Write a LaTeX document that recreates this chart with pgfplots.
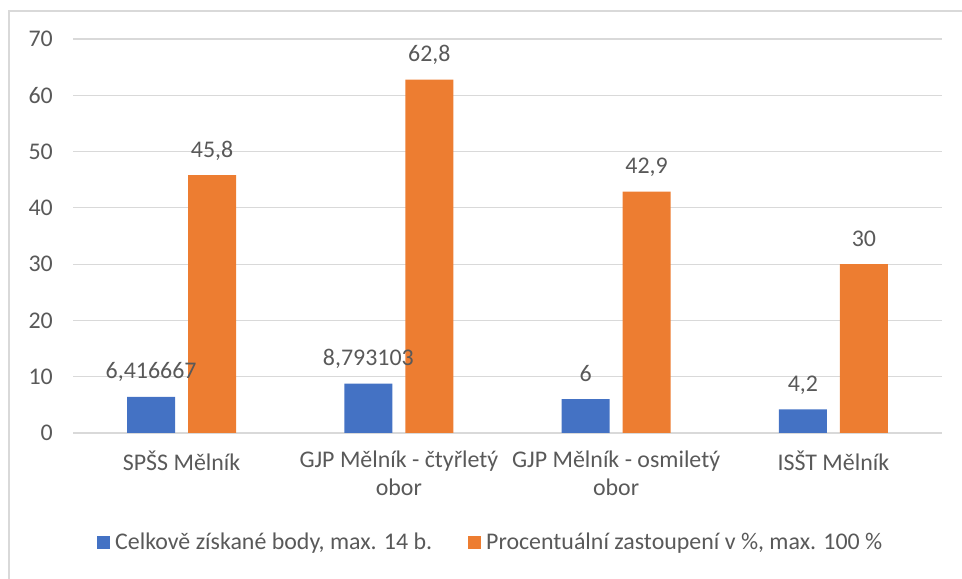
\documentclass[border=0pt]{standalone}
\usepackage{pgfplots}
\pgfplotsset{compat=1.18}
\usepackage{fontspec}
\setmainfont{Carlito}
\definecolor{cblue}{HTML}{4472C4}
\definecolor{corange}{HTML}{ED7D31}
\definecolor{ctext}{HTML}{595959}
\definecolor{cgrid}{HTML}{D9D9D9}
\begin{document}
\begin{tikzpicture}[x=1bp,y=1bp]
\useasboundingbox (0,0) rectangle (962,579);
\draw[cgrid, line width=1.4bp] (9,-5) -- (9,568) -- (970,568);
\begin{axis}[
  at={(73bp,146bp)}, anchor=south west,
  scale only axis, width=869bp, height=394bp,
  xmin=-0.5, xmax=3.5, ymin=0, ymax=70, enlargelimits=false,
  ybar=13bp, bar width=48bp,
  xtick={0,1,2,3},
  xticklabels={SPŠS Mělník, {GJP Mělník - čtyřletý\\obor}, {GJP Mělník - osmiletý\\obor}, ISŠT Mělník},
  ytick={0,10,...,70},
  ymajorgrids, grid style={cgrid, line width=1.2bp},
  axis line style={draw=none},
  major tick length=0pt,
  /pgf/number format/assume math mode=true,
  tick label style={font=\fontsize{24}{28}\selectfont, text=ctext},
  yticklabel style={anchor=east, inner sep=0pt, xshift=-20bp},
  xticklabel style={anchor=north, align=center, inner sep=0pt, yshift=-18bp},
  nodes near coords,
  point meta=explicit symbolic,
  every node near coord/.append style={anchor=base, yshift=18bp, inner sep=0pt, font=\fontsize{24}{28}\selectfont, text=ctext},
  legend columns=2,
  legend image code/.code={\fill[#1] (0bp,-6.5bp) rectangle (13bp,6.5bp); \path (16bp,0bp);},
  legend style={at={(0.0276,-0.277)}, anchor=west, draw=none, fill=none, inner sep=0pt,
    font=\fontsize{24}{28}\selectfont, text=ctext,
    /tikz/every even column/.append style={column sep=34bp}},
]
\addplot[fill=cblue, draw=none] coordinates {(0,6.416667) [6,416667] (1,8.793103) [8,793103] (2,6) [6] (3,4.2) [4,2]};
\addlegendentry{Celkově získané body, max. 14 b.}
\addplot[fill=corange, draw=none] coordinates {(0,45.8) [45,8] (1,62.8) [62,8] (2,42.9) [42,9] (3,30) [30]};
\addlegendentry{Procentuální zastoupení v \%, max. 100 \%}
\end{axis}
\end{tikzpicture}
\end{document}
